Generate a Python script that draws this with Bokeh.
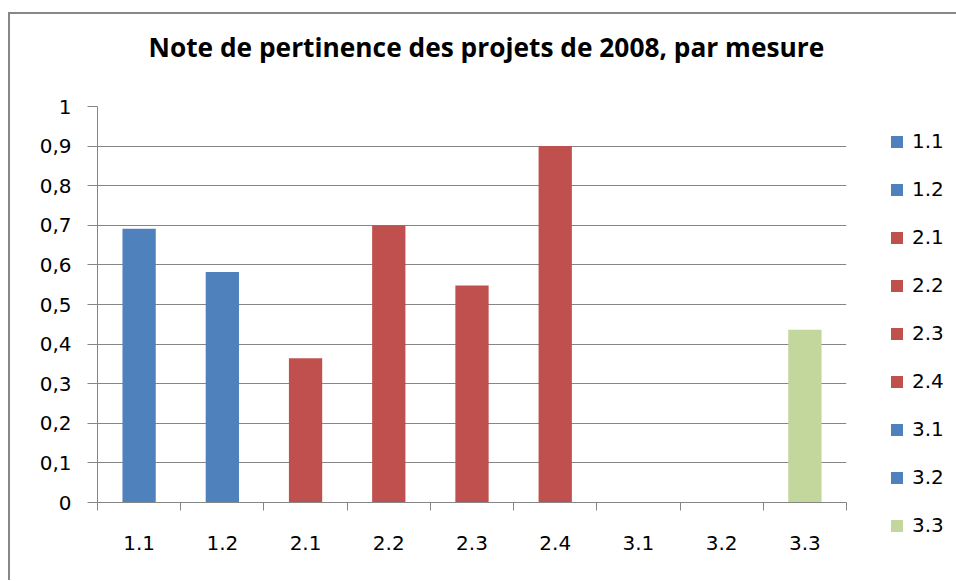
from bokeh.plotting import figure
from bokeh.layouts import row
from bokeh.models import (FixedTicker, CustomJSTickFormatter, Legend, LegendItem,
                          ColumnDataSource, Range1d, Title)
from bokeh.embed import file_html
from bokeh.resources import INLINE

# ---- data ----
categories = ["1.1", "1.2", "2.1", "2.2", "2.3", "2.4", "3.1", "3.2", "3.3"]
values = [0.691, 0.582, 0.364, 0.700, 0.548, 0.900, 0.0, 0.0, 0.436]
colors = ["#4F81BD", "#4F81BD", "#C0504D", "#C0504D", "#C0504D", "#C0504D",
          "#4F81BD", "#4F81BD", "#C3D69B"]
y_ticks = [0, 0.1, 0.2, 0.3, 0.4, 0.5, 0.6, 0.7, 0.8, 0.9, 1.0]
title_text = "Note de pertinence des projets de 2008, par mesure"

xs = [i + 0.5 for i in range(len(categories))]
boundaries = list(range(len(categories) + 1))
source = ColumnDataSource(dict(x=xs, top=values, color=colors, cat=categories))

GREY = "#868686"
TICK_FONT = "DejaVu Sans"
H = 566

# ---- main chart ----
p = figure(width=840, height=H, output_backend="svg", toolbar_location=None,
           x_range=Range1d(0, len(categories)), y_range=Range1d(0, 1),
           min_border_left=87, min_border_right=4, min_border_top=92, min_border_bottom=78,
           title=None)
p.frame_align = False
p.outline_line_color = None
p.background_fill_color = "white"
p.border_fill_color = "white"

# spacer (closest to the frame) then the title above it
spacer = Title(text=" ", text_font_size="1px", standoff=26)
p.add_layout(spacer, "above")
title = Title(text=title_text, text_font="Open Sans", text_font_style="bold",
              text_font_size="26.3px", align="left", offset=51, standoff=25,
              text_color="black")
p.add_layout(title, "above")

r = p.vbar(x="x", top="top", width=0.40, bottom=0, color="color", line_color=None, source=source)

p.xgrid.visible = False
p.ygrid.grid_line_color = GREY
p.ygrid.grid_line_width = 1
p.ygrid.ticker = FixedTicker(ticks=y_ticks)

ya = p.yaxis[0]
ya.ticker = FixedTicker(ticks=y_ticks)
ya.formatter = CustomJSTickFormatter(code="var s = (Math.round(tick*10)/10).toString(); return s.replace('.', ',');")
ya.axis_line_color = GREY
ya.major_tick_line_color = GREY
ya.major_tick_out = 10
ya.major_tick_in = 0
ya.minor_tick_line_color = None
ya.major_label_standoff = 16
ya.major_label_text_font = TICK_FONT
ya.major_label_text_font_size = "20px"
ya.major_label_text_color = "black"

xa = p.xaxis[0]
xa.ticker = FixedTicker(ticks=xs, minor_ticks=boundaries)
xa.major_label_overrides = {x: c for x, c in zip(xs, categories)}
xa.axis_line_color = GREY
xa.major_tick_line_color = None
xa.major_tick_out = 0
xa.major_tick_in = 0
xa.minor_tick_line_color = GREY
xa.minor_tick_out = 8
xa.minor_tick_in = 0
xa.major_label_standoff = 25
xa.major_label_text_font = TICK_FONT
xa.major_label_text_font_size = "20px"
xa.major_label_text_color = "black"

# ---- legend panel (separate figure so the legend is not clipped) ----
lg = figure(width=106, height=H, output_backend="svg", toolbar_location=None,
            x_axis_type=None, y_axis_type=None,
            x_range=Range1d(0, 1), y_range=Range1d(0, 1),
            min_border_left=0, min_border_right=0, min_border_top=0, min_border_bottom=0)
lg.frame_align = False
lg.outline_line_color = None
lg.grid.visible = False
lg.border_fill_color = "white"
lg.background_fill_color = "white"
lr = lg.vbar(x="x", top="top", width=0.40, bottom=0, color="color", line_color=None,
             source=source, visible=False)

items = [LegendItem(label=c, renderers=[lr], index=i) for i, c in enumerate(categories)]
legend = Legend(items=items, location=(39, 43), orientation="vertical")
legend.border_line_color = None
legend.background_fill_alpha = 0
legend.padding = 0
legend.margin = 0
legend.glyph_width = 15
legend.glyph_height = 15
legend.label_height = 24
legend.spacing = 24
legend.label_standoff = 8
legend.label_text_font = TICK_FONT
legend.label_text_font_size = "20px"
legend.label_text_color = "black"
lg.add_layout(legend, "center")

layout = row(p, lg, spacing=0)
layout.styles = {"border-left": "2px solid #878787", "border-top": "2px solid #878787"}
layout.margin = (12, 0, 0, 8)

open("out.html", "w").write(file_html(layout, INLINE))
